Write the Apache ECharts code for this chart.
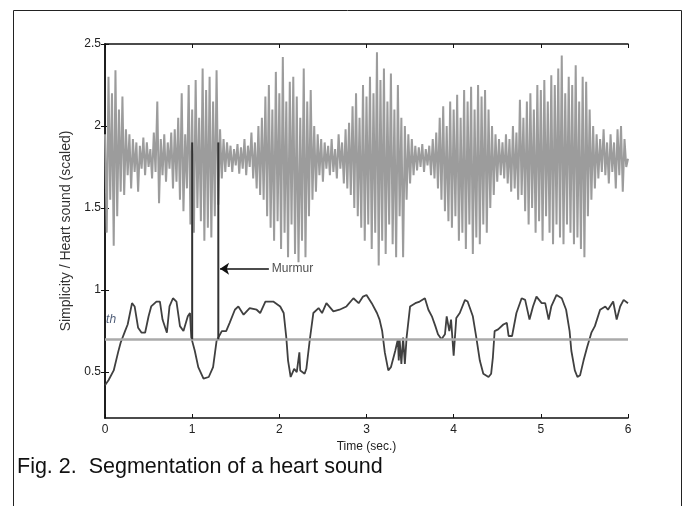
<!DOCTYPE html>
<html>
<head>
<meta charset="utf-8">
<script src="https://cdn.jsdelivr.net/npm/echarts@6/dist/echarts.min.js"></script>
<style>
  html, body { margin: 0; padding: 0; background: #ffffff; }
  #chart { width: 687px; height: 506px; }
</style>
</head>
<body>
<div id="chart"></div>
<script>
  // 时间轴刻度 / y 轴刻度
  var xTicks = [0, 1, 2, 3, 4, 5, 6];
  var yTicks = [0.5, 1, 1.5, 2, 2.5];

  // 心音波形（灰色），每 0.02 秒一个点
  var soundStep = 0.02;
  var soundValues = [
    1.95, 1.35, 2.30, 1.55, 2.20, 1.27, 2.34, 1.45, 2.10, 1.60,
    2.18, 1.58, 1.98, 1.70, 1.95, 1.62, 1.92, 1.72, 1.90, 1.60,
    1.88, 1.74, 1.93, 1.70, 1.90, 1.75, 1.86, 1.68, 1.96, 1.72,
    2.15, 1.53, 1.92, 1.70, 1.95, 1.66, 1.90, 1.74, 1.96, 1.62,
    1.98, 1.66, 2.05, 1.55, 2.20, 1.48, 1.95, 1.62, 2.25, 1.40,
    2.10, 1.35, 2.28, 1.50, 2.05, 1.42, 2.35, 1.30, 2.22, 1.38,
    2.30, 1.32, 2.15, 1.45, 2.34, 1.52, 1.98, 1.68, 1.92, 1.72,
    1.90, 1.75, 1.88, 1.72, 1.86, 1.76, 1.89, 1.71, 1.87, 1.74,
    1.92, 1.70, 1.88, 1.75, 1.96, 1.68, 1.90, 1.62, 2.00, 1.58,
    2.05, 1.55, 2.18, 1.45, 2.25, 1.38, 2.10, 1.30, 2.33, 1.42,
    2.20, 1.25, 2.42, 1.35, 2.15, 1.20, 2.27, 1.40, 2.30, 1.22,
    2.18, 1.17, 2.05, 1.30, 2.35, 1.20, 2.15, 1.45, 2.22, 1.55,
    2.00, 1.60, 1.95, 1.70, 1.92, 1.66, 1.90, 1.74, 1.88, 1.70,
    1.92, 1.72, 1.86, 1.68, 1.95, 1.74, 1.90, 1.65, 1.98, 1.62,
    2.02, 1.58, 2.12, 1.50, 2.20, 1.45, 2.05, 1.38, 2.25, 1.30,
    2.18, 1.40, 2.30, 1.25, 2.20, 1.35, 2.45, 1.15, 2.28, 1.30,
    2.35, 1.22, 2.15, 1.40, 2.32, 1.28, 2.10, 1.20, 2.25, 1.45,
    2.05, 1.20, 2.00, 1.55, 1.95, 1.65, 1.92, 1.70, 1.88, 1.73,
    1.87, 1.75, 1.89, 1.72, 1.86, 1.76, 1.88, 1.70, 1.92, 1.68,
    1.96, 1.62, 2.05, 1.55, 2.12, 1.48, 2.00, 1.42, 2.15, 1.38,
    2.10, 1.45, 2.19, 1.30, 2.05, 1.35, 2.22, 1.25, 2.15, 1.40,
    2.24, 1.22, 2.10, 1.32, 2.25, 1.28, 2.18, 1.40, 2.22, 1.35,
    2.10, 1.50, 2.00, 1.58, 1.95, 1.66, 1.92, 1.70, 1.90, 1.68,
    1.95, 1.65, 1.92, 1.60, 2.00, 1.62, 1.96, 1.55, 2.16, 1.58,
    2.05, 1.48, 2.15, 1.40, 2.20, 1.50, 2.10, 1.35, 2.25, 1.42,
    2.22, 1.30, 2.28, 1.45, 2.15, 1.35, 2.31, 1.28, 2.25, 1.40,
    2.35, 1.32, 2.43, 1.28, 2.20, 1.40, 2.30, 1.35, 2.25, 1.28,
    2.37, 1.32, 2.15, 1.25, 2.30, 1.20, 2.27, 1.45, 2.10, 1.55,
    2.00, 1.62, 1.95, 1.68, 1.92, 1.72, 1.98, 1.70, 1.90, 1.65,
    1.95, 1.72, 1.90, 1.62, 1.98, 1.70, 2.00, 1.60, 1.92, 1.75,
    1.80
  ];

  // 简单度曲线（深色） [时间, 值]
  var simplicityPoints = [
    [0, 0.42], [0.04, 0.45], [0.1, 0.51], [0.15, 0.62], [0.18, 0.68], [0.23, 0.75], [0.26, 0.79],
    [0.31, 0.92], [0.34, 0.9], [0.38, 0.77], [0.42, 0.74], [0.46, 0.74], [0.5, 0.84], [0.53, 0.9],
    [0.59, 0.93], [0.63, 0.93], [0.66, 0.82], [0.71, 0.74], [0.74, 0.9], [0.78, 0.95], [0.82, 0.93],
    [0.86, 0.78], [0.9, 0.75], [0.95, 0.84], [0.975, 0.86], [0.99, 0.71], [1.03, 0.63], [1.07, 0.53],
    [1.13, 0.46], [1.19, 0.47], [1.24, 0.53], [1.28, 0.69], [1.34, 0.75], [1.39, 0.75], [1.43, 0.8],
    [1.49, 0.88], [1.53, 0.9], [1.59, 0.85], [1.66, 0.89], [1.74, 0.88], [1.78, 0.86], [1.84, 0.93],
    [1.93, 0.93], [2.01, 0.9], [2.05, 0.86], [2.08, 0.71], [2.1, 0.57], [2.13, 0.47], [2.17, 0.52],
    [2.2, 0.5], [2.23, 0.62], [2.24, 0.51], [2.29, 0.49], [2.31, 0.52], [2.35, 0.7], [2.39, 0.86],
    [2.45, 0.89], [2.49, 0.86], [2.54, 0.92], [2.62, 0.87], [2.69, 0.88], [2.77, 0.9], [2.85, 0.95],
    [2.91, 0.92], [2.96, 0.96], [3.0, 0.97], [3.06, 0.92], [3.12, 0.86], [3.15, 0.82], [3.18, 0.75],
    [3.21, 0.62], [3.25, 0.51], [3.28, 0.53], [3.33, 0.63], [3.36, 0.7], [3.37, 0.57], [3.38, 0.7],
    [3.4, 0.55], [3.42, 0.71], [3.44, 0.55], [3.46, 0.71], [3.5, 0.9], [3.56, 0.92], [3.61, 0.93],
    [3.67, 0.95], [3.71, 0.88], [3.75, 0.84], [3.79, 0.78], [3.82, 0.73], [3.86, 0.7], [3.9, 0.73],
    [3.92, 0.84], [3.95, 0.75], [3.97, 0.82], [4.0, 0.6], [4.03, 0.83], [4.07, 0.86], [4.13, 0.94],
    [4.16, 0.93], [4.22, 0.84], [4.26, 0.71], [4.3, 0.57], [4.34, 0.49], [4.4, 0.47], [4.43, 0.49],
    [4.45, 0.59], [4.47, 0.75], [4.51, 0.76], [4.57, 0.79], [4.61, 0.8], [4.63, 0.72], [4.67, 0.72],
    [4.72, 0.86], [4.78, 0.95], [4.82, 0.94], [4.87, 0.82], [4.91, 0.9], [4.95, 0.96], [5.01, 0.92],
    [5.05, 0.92], [5.09, 0.82], [5.12, 0.9], [5.18, 0.97], [5.24, 0.95], [5.29, 0.88], [5.33, 0.75],
    [5.35, 0.63], [5.39, 0.51], [5.42, 0.47], [5.45, 0.48], [5.49, 0.57], [5.53, 0.65], [5.58, 0.74],
    [5.62, 0.78], [5.68, 0.88], [5.74, 0.9], [5.77, 0.88], [5.83, 0.93], [5.87, 0.82], [5.91, 0.9],
    [5.95, 0.94], [6.0, 0.92]
  ];

  // 阈值 th，杂音区间和标注
  var thresholdValue = 0.7;
  var murmurTimes = [1.0, 1.3];
  var murmurRange = [0.7, 1.9];
  var arrowY = 1.13;
  var arrowFrom = 1.88;
  var thLabelPos = [0.07, 0.82];

  var soundData = soundValues.map(function (v, i) {
    return [+(i * soundStep).toFixed(3), v];
  });

  var myChart = echarts.init(document.getElementById('chart'));

  var fontFam = 'Liberation Sans, Arial, sans-serif';
  var tickFont = {color: '#222', fontSize: 12, fontFamily: fontFam};

  myChart.setOption({
    animation: false,
    grid: {left: 105, top: 44, right: 59, bottom: 88},
    graphic: [
      {
        type: 'rect',
        left: 11, top: 8,
        shape: {width: 668, height: 520},
        style: {fill: 'none', stroke: '#222', lineWidth: 1}
      },
      {
        type: 'text',
        left: 17, top: 456,
        style: {
          text: 'Fig. 2.  Segmentation of a heart sound',
          fill: '#111',
          font: '21.5px "Liberation Sans", Arial, sans-serif'
        }
      }
    ],
    xAxis: [
      {
        type: 'value', min: 0, max: 6, interval: 1,
        name: 'Time (sec.)', nameLocation: 'middle', nameGap: 23,
        nameTextStyle: {color: '#222', fontSize: 12, fontFamily: fontFam},
        axisLine: {show: true, lineStyle: {color: '#111', width: 1.5}},
        axisTick: {show: true, inside: true, length: 4, lineStyle: {color: '#111'}},
        axisLabel: Object.assign({margin: 6}, tickFont),
        splitLine: {show: false}
      },
      {
        type: 'value', min: 0, max: 6, interval: 1, position: 'top',
        axisLine: {show: true, lineStyle: {color: '#111', width: 1.5}},
        axisTick: {show: true, inside: true, length: 4, lineStyle: {color: '#111'}},
        axisLabel: {show: false},
        splitLine: {show: false}
      }
    ],
    yAxis: [
      {
        type: 'value', min: 0.22, max: 2.5,
        name: 'Simplicity / Heart sound (scaled)', nameLocation: 'middle', nameGap: 30,
        nameTextStyle: {color: '#333', fontSize: 14, fontFamily: fontFam},
        axisLine: {show: true, lineStyle: {color: '#111', width: 1.5}},
        axisTick: {show: true, inside: true, length: 4, customValues: yTicks, lineStyle: {color: '#111'}},
        axisLabel: Object.assign({margin: 4, customValues: yTicks}, tickFont),
        splitLine: {show: false}
      },
      {
        type: 'value', min: 0.22, max: 2.5, position: 'right',
        axisLine: {show: true, lineStyle: {color: '#111', width: 1.5}},
        axisTick: {show: true, inside: true, length: 4, customValues: yTicks, lineStyle: {color: '#111'}},
        axisLabel: {show: false},
        splitLine: {show: false}
      }
    ],
    series: [
      {
        name: 'Heart sound',
        type: 'line',
        data: soundData,
        symbol: 'none',
        lineStyle: {color: '#9c9c9c', width: 2},
        z: 2
      },
      {
        name: 'Simplicity',
        type: 'line',
        data: simplicityPoints,
        symbol: 'none',
        lineStyle: {color: '#404040', width: 1.8},
        z: 4,
        markLine: {
          silent: true,
          symbol: ['none', 'none'],
          label: {show: false},
          lineStyle: {color: '#aaaaaa', width: 2.5, type: 'solid'},
          data: [{yAxis: thresholdValue}]
        }
      },
      {
        name: 'Murmur start',
        type: 'line',
        data: [[murmurTimes[0], murmurRange[1]], [murmurTimes[0], murmurRange[0]]],
        symbol: 'none',
        lineStyle: {color: '#333', width: 2},
        z: 5
      },
      {
        name: 'Murmur end',
        type: 'line',
        data: [[murmurTimes[1], murmurRange[1]], [murmurTimes[1], murmurRange[0]]],
        symbol: 'none',
        lineStyle: {color: '#333', width: 2},
        z: 5,
        markLine: {
          silent: true,
          symbol: ['none', 'arrow'],
          symbolSize: [9, 9],
          label: {show: false},
          lineStyle: {color: '#111', width: 1.5, type: 'solid'},
          data: [[{coord: [arrowFrom, arrowY]}, {coord: [murmurTimes[1] + 0.02, arrowY]}]]
        }
      },
      {
        name: 'labels',
        type: 'scatter',
        symbolSize: 0,
        z: 6,
        data: [
          {value: [arrowFrom, arrowY], label: {show: true, position: 'right', distance: 3, formatter: 'Murmur', color: '#222', fontSize: 12, fontFamily: fontFam}},
          {value: thLabelPos, label: {show: true, position: 'inside', formatter: 'th', color: '#223355', fontSize: 12, fontStyle: 'italic', fontFamily: fontFam}}
        ]
      }
    ]
  });
</script>
</body>
</html>
